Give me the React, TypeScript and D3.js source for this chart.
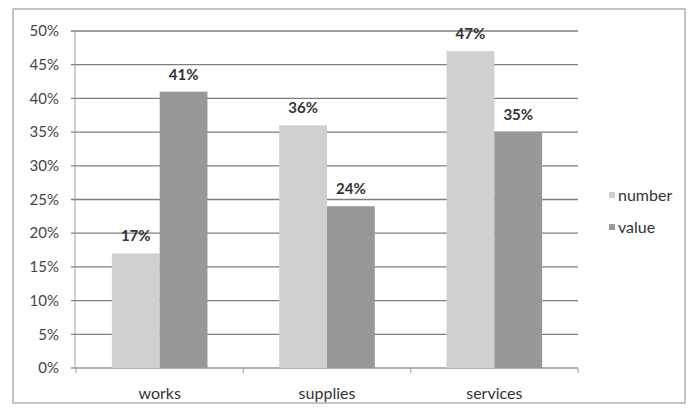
import React from "react";
import * as d3 from "d3";

const categories = ["works", "supplies", "services"];
const seriesNames = ["number", "value"];
const numberValues = [17, 36, 47];
const valueValues = [41, 24, 35];
const yTicks = [0, 5, 10, 15, 20, 25, 30, 35, 40, 45, 50];

const colors: Record<string, string> = { number: "#d0d0d0", value: "#989898" };

export default function App() {
  const W = 688;
  const H = 413;
  const plot = { left: 76, right: 578, top: 31, bottom: 368 };

  const x = d3.scaleBand<string>().domain(categories).range([plot.left, plot.right]).paddingInner(0).paddingOuter(0);
  const y = d3.scaleLinear().domain([0, 50]).range([plot.bottom, plot.top]);

  // Excel-style grouping: gap width 150% of a bar
  const bw = x.bandwidth() / (seriesNames.length + 1.5);
  const inner = d3.scaleBand<string>().domain(seriesNames).range([0, bw * 2]);

  const data = categories.map((c, i) => ({ c, number: numberValues[i], value: valueValues[i] }));
  const font = "Lato, 'Open Sans', sans-serif";

  return (
    <svg width={W} height={H} style={{ position: "absolute", left: 0, top: 0, background: "#fff" }}>
      <rect x={13} y={9} width={672} height={394} fill="#fff" stroke="#b0b0b0" strokeWidth={1.5} />
      {yTicks.map((t) => (
        <g key={t}>
          <line x1={plot.left - 5} x2={plot.right} y1={y(t)} y2={y(t)} stroke={t === 0 ? "#999" : "#7e7e7e"} strokeWidth={1.3} />
          <text x={59} y={y(t)} dy="0.35em" textAnchor="end" fontFamily={font} fontSize={15} fill="#444">
            {t}%
          </text>
        </g>
      ))}
      <line x1={plot.left - 1} x2={plot.left - 1} y1={plot.top} y2={plot.bottom} stroke="#a0a0a0" strokeWidth={1} />
      {[...categories.map((c) => x(c)!), plot.right].map((t, i) => (
        <line key={i} x1={t} x2={t} y1={plot.bottom} y2={plot.bottom + 5} stroke="#9a9a9a" strokeWidth={1} />
      ))}
      {data.map((d) => {
        const cx = x(d.c)! + x.bandwidth() / 2 - bw;
        return (
          <g key={d.c}>
            {seriesNames.map((s) => {
              const v = (d as any)[s] as number;
              const bx = cx + inner(s)!;
              return (
                <g key={s}>
                  <rect x={bx} y={y(v)} width={inner.bandwidth()} height={plot.bottom - y(v)} fill={colors[s]} />
                  <text
                    x={bx + inner.bandwidth() / 2}
                    y={y(v) - 12}
                    textAnchor="middle"
                    fontFamily={font}
                    fontWeight={700}
                    fontSize={15}
                    fill="#333"
                  >
                    {v}%
                  </text>
                </g>
              );
            })}
            <text x={x(d.c)! + x.bandwidth() / 2} y={399} textAnchor="middle" fontFamily={font} fontSize={16} fill="#333">
              {d.c}
            </text>
          </g>
        );
      })}
      {seriesNames.map((s, i) => (
        <g key={s} transform={`translate(609, ${195 + i * 32})`}>
          <rect x={0} y={-3} width={6} height={6} fill={colors[s]} />
          <text x={9} y={0} dy="0.35em" fontFamily={font} fontSize={16} fill="#333">
            {s}
          </text>
        </g>
      ))}
    </svg>
  );
}
